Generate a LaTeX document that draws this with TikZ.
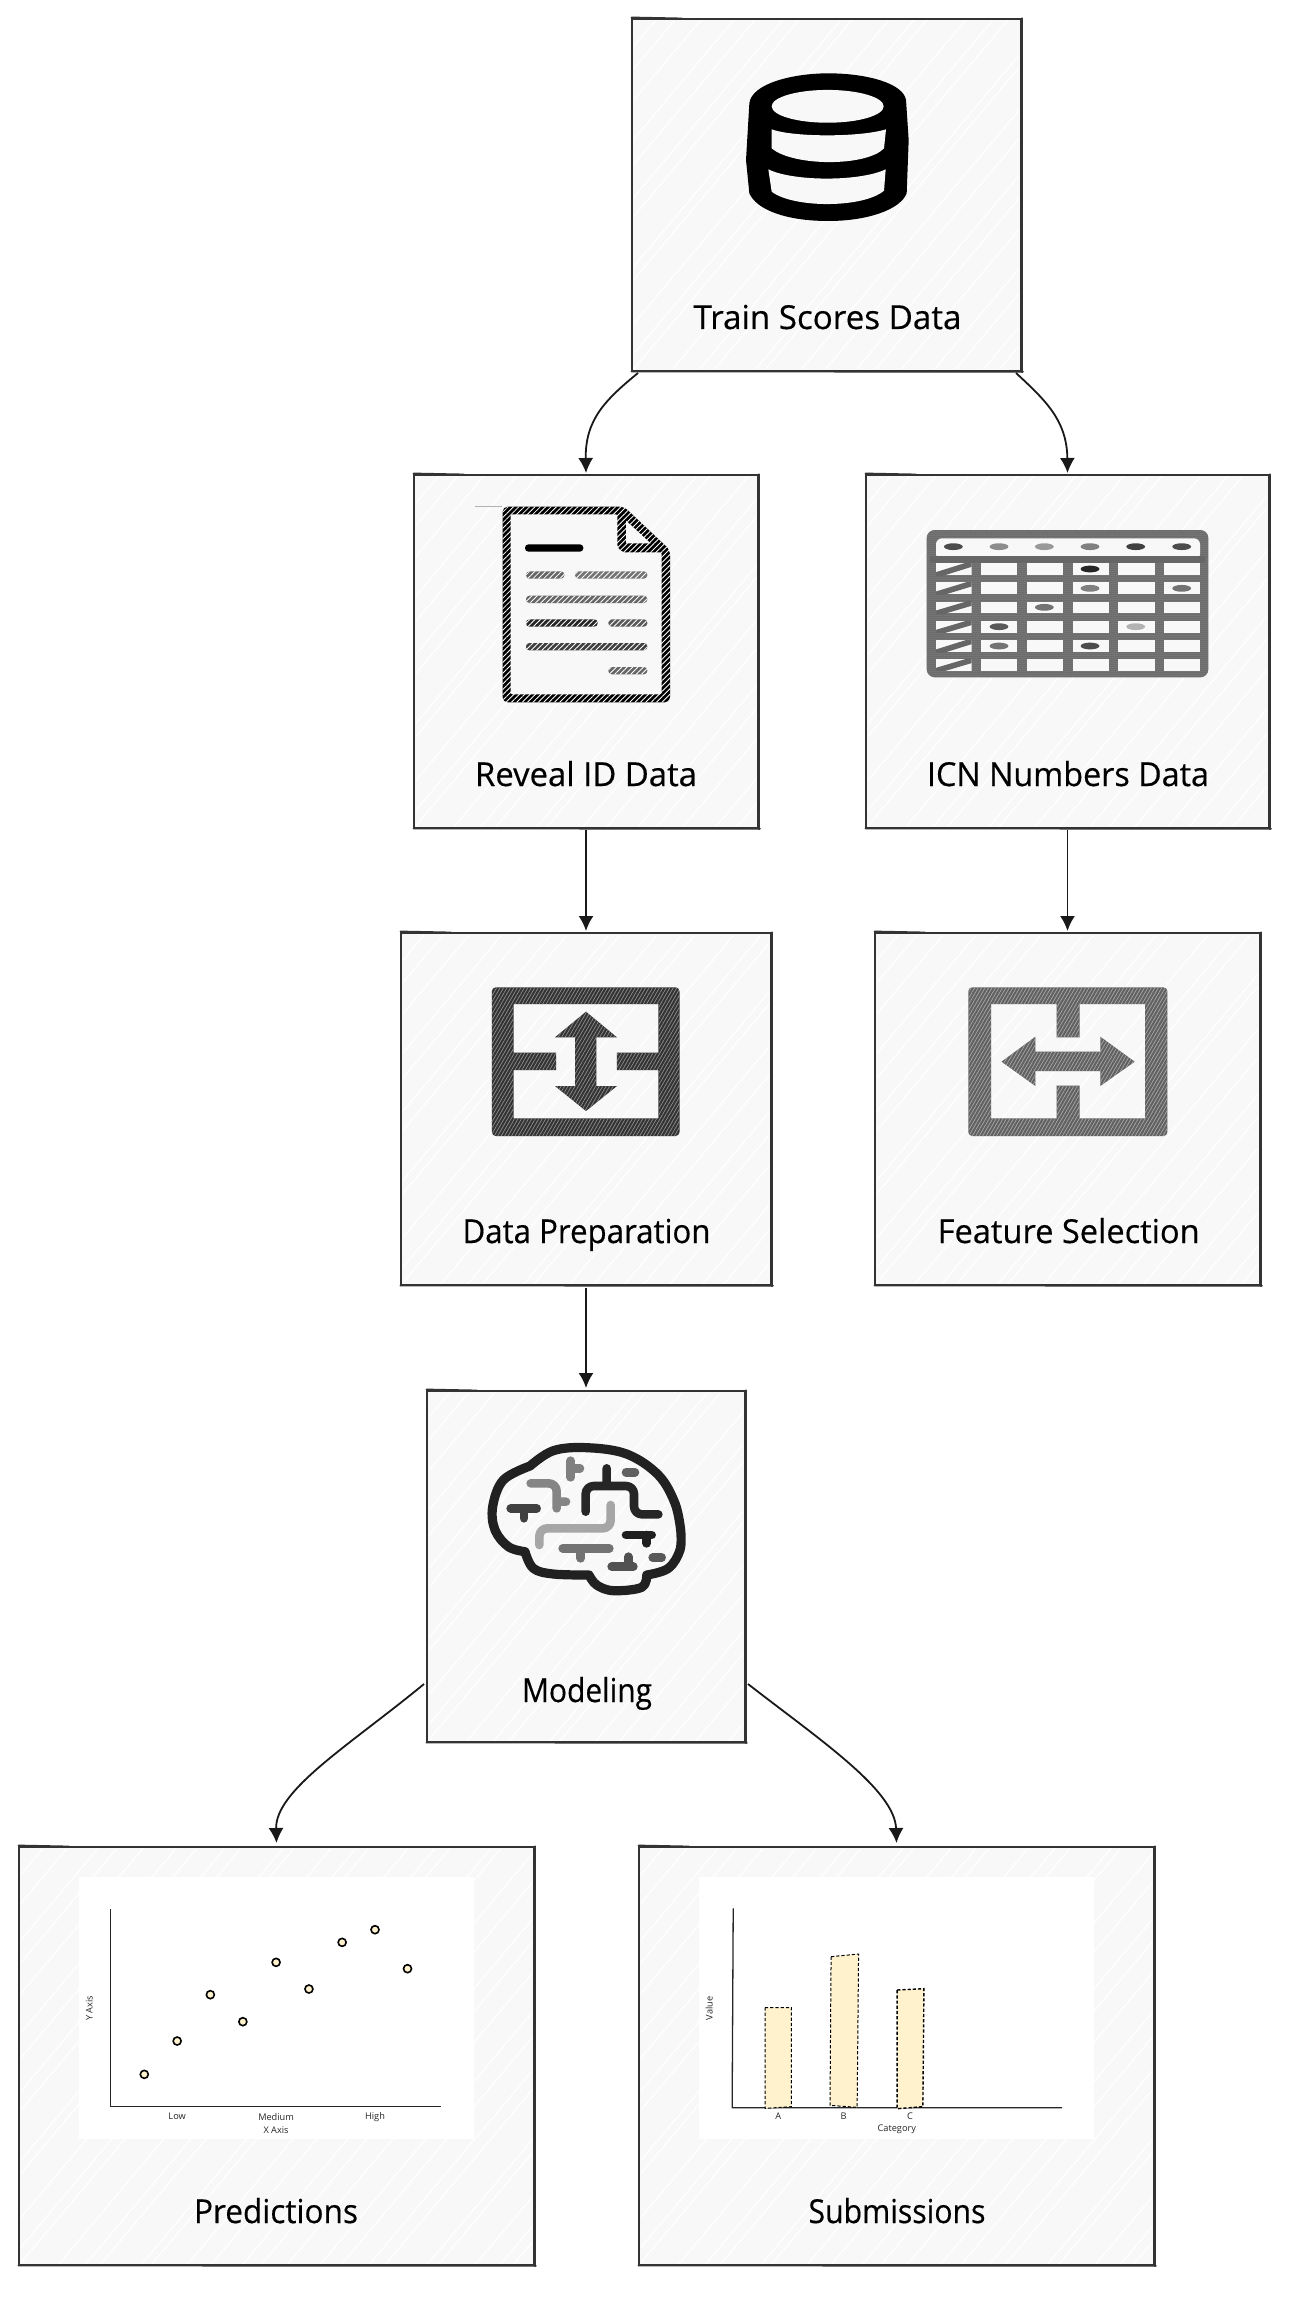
\documentclass[tikz,border=0pt]{standalone}
\usepackage{graphicx}
\usepackage{fontspec}
\setmainfont{Open Sans}
\newfontfamily\lblfont[FakeBold=0.4]{Open Sans}
\usetikzlibrary{patterns.meta,arrows.meta}
\definecolor{boxbg}{HTML}{F8F8F8}
\definecolor{boxln}{HTML}{333333}
\definecolor{pale}{HTML}{FFF2CC}
\tikzset{
  zs/.style n args={4}{shift={(#1,#2)},x=#3 pt,y=#4 pt},
  boxst/.style={draw=boxln,fill=boxbg,line width=1.2pt,inner sep=0pt,outer sep=0pt},
  skline/.style={draw=boxln,line width=.8pt,line cap=round},
  lbl/.style={anchor=base,inner sep=0pt,font=\lblfont\fontsize{16.5}{18}\selectfont,text=black},
  tiny/.style={inner sep=0pt,font=\fontsize{4.6}{6}\selectfont,text=black!85},
  arr/.style={draw=black!90,line width=.9pt,-{Latex[length=7.5pt,width=7.5pt]}},
  hatch/.style={preaction={fill=#1},pattern={Lines[angle=45,distance=1.9pt,line width=.42pt]},pattern color=white},
  dense/.style={preaction={fill=#1},pattern={Lines[angle=60,distance=1.5pt,line width=.35pt]},pattern color=white!45!#1},
  br/.style={draw=#1,line width=4.3pt,line cap=round,line join=round,rounded corners=4pt},
  axisl/.style={draw=black!85,line width=.65pt},
  dot/.style={draw=black,fill=pale,line width=.8pt},
  barst/.style={draw=black,fill=pale,line width=.5pt,dash pattern=on 1.6pt off 1pt},
}
\newcommand\skbox[9]{%
  \pgfmathsetmacro\bw{(#4-#2)/2}\pgfmathsetmacro\bh{(#5-#3)/2}%
  \pgfmathsetmacro\tw{#9/2}%
  \node[boxst,minimum width=\bw pt,minimum height=\bh pt] (#1) at ({(#2+#4)/2},{(#3+#5)/2}) {};
  \begin{scope}
    \clip (#2+2,#3+2) rectangle (#4-2,#5-2);
    \foreach \k in {-18,...,26}{
      \pgfmathsetmacro\xo{#2+\k*26+mod(\k*\k*13,19)}
      \pgfmathsetmacro\xe{\xo+0.84*(#5-#3)}
      \draw[white,line width=.6pt] (\xo,#5) -- (\xe,#3);
    }
  \end{scope}
  \draw[skline] ([xshift=-.3pt,yshift=.8pt]#1.north west) -- ([xshift=25pt,yshift=.3pt]#1.north west);
  \draw[skline] ([xshift=.4pt,yshift=.4pt]#1.north east) -- ([xshift=.4pt,yshift=-.6pt]#1.south east);
  \draw[skline] ([xshift=-.3pt,yshift=-.3pt]#1.south west) -- ([xshift=1pt,yshift=-.4pt]#1.south east);
  \node[lbl] (#1t) at (#6,#7) {\resizebox{\tw pt}{\height}{#8}};
}
\newcommand\docbar[4]{\path[hatch={#4},rounded corners=1.7pt] (#1,#3-11) rectangle (#2,#3+11);}
\newcommand\tbloval[3]{\fill[#3] (#1,#2) ellipse[x radius=4.7pt,y radius=1.7pt];}
\begin{document}
\begin{tikzpicture}[x=.5pt,y=-.5pt]
\useasboundingbox (0,0) rectangle (1304,2310);
\fill[white] (0,0) rectangle (1304,2310);

% ---------- boxes
\skbox{train}{632}{19}{1021}{371}{827.5}{329}{Train Scores Data}{268}
\skbox{reveal}{414}{475}{758}{828}{586}{786}{Reveal ID Data}{222}
\skbox{icn}{866}{475}{1269}{828}{1068}{786}{ICN Numbers Data}{282}
\skbox{prep}{401}{933}{771}{1285}{586.5}{1243}{Data Preparation}{248}
\skbox{feat}{875}{933}{1260}{1285}{1068.7}{1243}{Feature Selection}{262}
\skbox{model}{427}{1391}{745}{1742}{587}{1702}{Modeling}{130}
\skbox{pred}{19}{1847}{534}{2265}{276}{2223}{Predictions}{164}
\skbox{subm}{639}{1847}{1154}{2265}{897}{2223}{Submissions}{177}

% ---------- connectors
\draw[arr] ([xshift=3pt,yshift=-1pt]train.south west) .. controls (605,400) and (585,420) .. ([yshift=1pt]reveal.north);
\draw[arr] ([xshift=-2.5pt,yshift=-1pt]train.south east) .. controls (1045,400) and (1067,420) .. ([yshift=1pt]icn.north);
\draw[arr] ([yshift=-1pt]reveal.south) -- ([yshift=1pt]prep.north -| reveal.south);
\draw[arr] ([yshift=-1pt]icn.south) -- ([yshift=1pt]feat.north -| icn.south);
\draw[arr] ([yshift=-1.5pt]prep.south -| model.north) -- ([yshift=1.5pt]model.north);
\draw[arr] ([xshift=-1.5pt,yshift=29pt]model.south west) .. controls (350,1745) and (275,1790) .. ([yshift=2pt]pred.north);
\draw[arr] ([xshift=1.5pt,yshift=29pt]model.south east) .. controls (820,1740) and (895,1790) .. ([yshift=2pt]subm.north);

% ---------- database icon
\begin{scope}[zs={620}{0}{.16667}{-.16667}]
\fill[black] (388,310) .. controls (395,250) and (520,220) .. (625,220) .. controls (740,220) and (850,250) .. (858,300) -- (866,420) -- (860,580) .. controls (840,630) and (740,663) .. (625,663) .. controls (500,663) and (410,630) .. (388,580) -- (378,480) -- cycle;
\fill[boxbg] (623,319) ellipse[x radius=28pt,y radius=8.2pt];
\fill[boxbg] (455,388) .. controls (520,412) and (720,412) .. (798,388) -- (792,445) .. controls (740,500) and (520,500) .. (455,445) -- cycle;
\fill[boxbg] (445,508) .. controls (520,545) and (720,545) .. (797,508) -- (792,572) .. controls (730,625) and (520,625) .. (455,575) -- cycle;
\end{scope}

% ---------- document icon
\begin{scope}[zs={400}{460}{.16667}{-.16667}]
\draw[black!30,line width=.4pt] (225,140) -- (305,140);
\path[hatch=black,rounded corners=2.5pt] (308,140) -- (672,140) -- (810,270) -- (810,727) -- (308,727) -- cycle;
\path[fill=boxbg,rounded corners=1pt] (332,163) -- (652,163) -- (652,262) -- (668,277) -- (785,277) -- (785,703) -- (332,703) -- cycle;
\path[fill=boxbg] (678,182) -- (678,250) -- (752,250) -- cycle;
\path[fill=black,rounded corners=1.7pt] (375,253) rectangle (550,275);
\docbar{378}{493}{345}{black!60}
\docbar{525}{742}{345}{black!55}
\docbar{378}{742}{418}{black!60}
\docbar{378}{593}{489}{black!85}
\docbar{625}{742}{489}{black!65}
\docbar{378}{742}{560}{black!75}
\docbar{625}{742}{632}{black!60}
\end{scope}

% ---------- table icon
\begin{scope}[zs={860}{460}{.16667}{-.16667}]
\path[fill=black!60,rounded corners=4pt] (200,210) rectangle (1045,652);
\path[pattern={Dots[radius=.25pt,distance=1pt]},pattern color=black!30,rounded corners=4pt] (200,210) rectangle (1045,652);
\path[fill=boxbg,rounded corners=3pt] (228,235) rectangle (1020,300);
\fill[black!60] (210,288) rectangle (1035,308);
\foreach \ya/\yb in {308/345,367/403,425/460,483/518,540/577,597/632}{
  \foreach \xa/\xb in {362/472,500/608,638/747,775/884,912/1020}{
    \fill[boxbg] (\xa,\ya) rectangle (\xb,\yb);
  }
  \begin{scope}
    \clip (228,\ya) rectangle (335,\yb);
    \fill[boxbg] (228,\ya) rectangle (335,\yb);
    \draw[black!60,line width=2.8pt] (222,\yb+2) -- (340,\ya+2);
  \end{scope}
}
\tbloval{280}{260}{black!70}\tbloval{417}{260}{black!45}\tbloval{553}{260}{black!40}
\tbloval{690}{260}{black!50}\tbloval{827}{260}{black!75}\tbloval{965}{260}{black!70}
\tbloval{690}{327}{black!85}\tbloval{690}{385}{black!50}\tbloval{965}{385}{black!55}
\tbloval{553}{442}{black!55}\tbloval{417}{500}{black!65}\tbloval{827}{500}{black!30}
\tbloval{417}{558}{black!55}\tbloval{690}{558}{black!70}
\end{scope}

% ---------- transfer icons (zoom scale 1.7422 x 3)
\begin{scope}[zs={400}{930}{.28699}{-.16667}]
\path[dense=black!80,even odd rule,rounded corners=2pt] (160,172) rectangle (487,618)
 [sharp corners] (198,222) -- (450,222) -- (450,368) -- (378,368) -- (378,420) -- (450,420) -- (450,565) -- (198,565) -- (198,420) -- (272,420) -- (272,368) -- (198,368) -- cycle;
\path[dense=black!80] (324,245) -- (378,322) -- (342,322) -- (342,468) -- (378,468) -- (324,543) -- (270,468) -- (305,468) -- (305,322) -- (270,322) -- cycle;
\path[dense=black!62,even odd rule,rounded corners=2pt] (990,172) rectangle (1337,618)
 [sharp corners] (1030,222) -- (1144,222) -- (1144,322) -- (1184,322) -- (1184,222) -- (1298,222) -- (1298,565) -- (1184,565) -- (1184,467) -- (1144,467) -- (1144,565) -- (1030,565) -- cycle;
\path[dense=black!62] (1048,395) -- (1107,320) -- (1107,365) -- (1220,365) -- (1220,320) -- (1280,395) -- (1220,468) -- (1220,423) -- (1107,423) -- (1107,468) -- cycle;
\end{scope}

% ---------- brain icon
\begin{scope}[zs={420}{1380}{.16667}{-.16667}]
\draw[draw=black!87,line width=4.6pt,line join=round,line cap=round]
  plot[smooth,tension=.6] coordinates {(330,258) (400,212) (500,203) (620,222) (715,285) (765,370) (782,450)}
  -- plot[smooth,tension=.6] coordinates {(782,450) (780,510) (745,565) (680,585)}
  -- plot[smooth,tension=.6] coordinates {(680,585) (665,622) (580,632) (530,615) (507,585)}
  -- plot[smooth,tension=.6] coordinates {(507,585) (400,582) (340,565) (315,515)}
  -- plot[smooth,tension=.6] coordinates {(315,515) (265,500) (225,450) (218,380) (250,300) (330,258)};
\draw[br=black!50] (452,242) -- (452,292) (452,265) -- (480,265);
\draw[br=black!48] (332,310) -- (410,310) -- (410,385) (410,365) -- (438,365);
\draw[br=black!75] (272,385) -- (350,385) (312,385) -- (312,415);
\draw[br=black!85] (497,395) -- (497,318) -- (642,318) -- (642,403) -- (715,403) (560,265) -- (560,318);
\draw[br=black!62] (618,277) -- (645,277);
\draw[br=black!35] (572,375) -- (572,445) -- (358,445) -- (358,495);
\draw[br=black!88] (618,465) -- (695,465) (680,465) -- (680,490);
\draw[br=black!55] (428,505) -- (568,505) (482,505) -- (482,535);
\draw[br=black!68] (575,560) -- (640,560) (625,560) -- (625,530);
\draw[br=black!65] (698,533) -- (725,533);
\end{scope}

% ---------- scatter plot
\begin{scope}[zs={0}{1840}{.17857}{-.16667}]
\fill[white] (220,110) rectangle (1326,898);
\draw[axisl] (310,207) -- (310,800) -- (1235,800);
\foreach \px/\py in {404/703,496/603,589/464,680/545,773/367,865/447,958/307,1050/269,1141/386}
  \draw[dot] (\px,\py) circle[radius=2pt];
\node[tiny] (plow) at (496,830) {Low};
\node[tiny] (pmed) at (773,830) {Medium};
\node[tiny] (phigh) at (1050,830) {High};
\node[tiny] (pxax) at (773,869) {X Axis};
\node[tiny,rotate=90] (pyax) at (250,505) {Y Axis};
\end{scope}

% ---------- bar chart
\begin{scope}[zs={630}{1840}{.17857}{-.16667}]
\fill[white] (193,110) rectangle (1298,898);
\draw[axisl] (289,205) -- (286,803) -- (1210,803);
\draw[barst] (378,503) -- (452,503) -- (452,800) -- (378,805) -- cycle;
\draw[barst] (563,350) -- (640,342) -- (636,802) -- (560,796) -- cycle;
\draw[barst,line width=.7pt] (748,450) -- (823,446) -- (820,800) -- (748,806) -- cycle;
\node[tiny] (ba) at (415,830) {A};
\node[tiny] (bb) at (598,830) {B};
\node[tiny] (bc) at (784,830) {C};
\node[tiny] (bcat) at (747,869) {Category};
\node[tiny,rotate=90] (bval) at (222,505) {Value};
\end{scope}
\end{tikzpicture}
\end{document}
